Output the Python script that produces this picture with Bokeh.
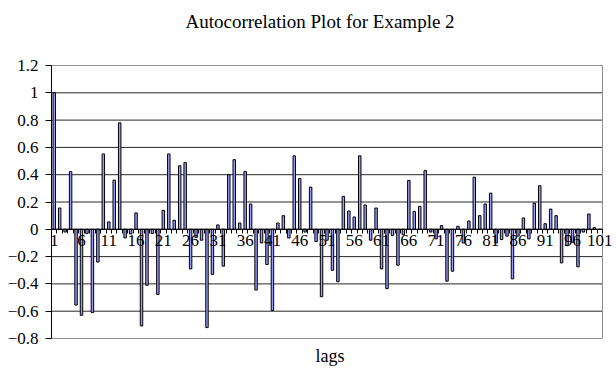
from bokeh.plotting import figure
from bokeh.models import Range1d, FixedTicker, CustomJSTickFormatter, Title
from bokeh.embed import file_html
from bokeh.resources import INLINE

title_text = "Autocorrelation Plot for Example 2"
x_label = "lags"

lags = list(range(1, 102))
acf = [
    1.00, 0.156, -0.02, 0.423, -0.555, -0.63, -0.03, -0.61, -0.24, 0.552,
    0.054, 0.36, 0.78, -0.063, -0.034, 0.12, -0.708, -0.41, -0.03, -0.477,
    0.139, 0.552, 0.066, 0.465, 0.489, -0.29, -0.06, -0.08, -0.72, -0.33,
    0.032, -0.27, 0.40, 0.51, 0.046, 0.423, 0.185, -0.445, -0.10, -0.258,
    -0.594, 0.046, 0.10, -0.063, 0.538, 0.372, -0.02, 0.309, -0.09, -0.494,
    -0.08, -0.30, -0.384, 0.241, 0.134, 0.09, 0.538, 0.178, -0.08, 0.156,
    -0.29, -0.435, -0.046, -0.263, -0.04, 0.358, 0.131, 0.168, 0.43, -0.02,
    -0.07, 0.027, -0.38, -0.307, 0.022, -0.10, 0.061, 0.382, 0.10, 0.185,
    0.265, -0.10, -0.075, -0.05, -0.363, -0.05, 0.083, -0.07, 0.192, 0.319,
    0.041, 0.148, 0.10, -0.246, -0.12, -0.095, -0.275, -0.02, 0.112, 0.012,
    0.0,
]
x_ticks = list(range(1, 102, 5))
y_ticks = [-0.8, -0.6, -0.4, -0.2, 0.0, 0.2, 0.4, 0.6, 0.8, 1.0, 1.2]

FONT = "Liberation Serif"

n = len(lags)
x_lo, x_hi = 0.5, n + 0.5
# the frame runs to the canvas edge so the last tick label is not clipped;
# the visible plot area (gridlines and border) stops at x_hi
cat_px = 551 / n
x_end = x_lo + 565 / cat_px

p = figure(width=616, height=370, output_backend="svg", toolbar_location=None,
           x_range=Range1d(x_lo, x_end), y_range=Range1d(-0.8, 1.2),
           min_border_left=51, min_border_right=0, min_border_top=65, min_border_bottom=31)
p.background_fill_color = "white"
p.border_fill_color = "white"
p.outline_line_color = None
p.xgrid.grid_line_color = None
p.ygrid.grid_line_color = None

# horizontal gridlines and plot-area border
p.segment(x0=[x_lo] * len(y_ticks), x1=[x_hi] * len(y_ticks), y0=y_ticks, y1=y_ticks,
          line_color="#000000", line_alpha=0.85, line_width=1)
p.segment(x0=[x_hi], x1=[x_hi], y0=[y_ticks[0]], y1=[y_ticks[-1]],
          line_color="#909090", line_width=1)

p.vbar(x=lags, top=acf, bottom=0, width=0.45, fill_color="#9999FF",
       line_color="#000000", line_width=1)

# y axis
p.yaxis.ticker = FixedTicker(ticks=y_ticks)
p.yaxis.formatter = CustomJSTickFormatter(code="""
    let s = tick.toFixed(1).replace(/\\.0$/, '');
    if (s === '-0') s = '0';
    return s.replace('-', '\\u2212');
""")
p.yaxis.major_label_text_font = FONT
p.yaxis.major_label_text_font_size = "17px"
p.yaxis.major_label_text_color = "black"
p.yaxis.major_tick_out = 6
p.yaxis.major_tick_in = 0
p.yaxis.minor_tick_line_color = None
p.yaxis.major_label_standoff = 7
p.yaxis.axis_line_color = "black"
p.yaxis.major_tick_line_color = "black"

# x axis at y=0 (axis line drawn as a segment so it stops at the plot-area border)
p.xaxis.fixed_location = 0
p.xaxis.ticker = FixedTicker(ticks=x_ticks, minor_ticks=[k + 0.5 for k in range(0, n + 1)])
p.xaxis.major_label_text_font = FONT
p.xaxis.major_label_text_font_size = "17px"
p.xaxis.major_label_text_color = "black"
p.xaxis.major_tick_line_color = None
p.xaxis.major_tick_out = 4
p.xaxis.major_tick_in = 0
p.xaxis.minor_tick_out = 4
p.xaxis.minor_tick_in = 0
p.xaxis.minor_tick_line_color = "black"
p.xaxis.major_label_standoff = 2
p.xaxis.axis_line_color = None
p.segment(x0=[x_lo], x1=[x_hi], y0=[0], y1=[0], line_color="black", line_width=1)

# title at the top, pushed up by an empty spacer title
p.title.text = title_text
p.title.text_font = FONT
p.title.text_font_size = "19px"
p.title.text_font_style = "normal"
p.title.text_color = "black"
p.title.align = "left"
p.title.offset = 134
p.add_layout(Title(text=" ", text_font_size="16px"), "above")

p.add_layout(Title(text=x_label, align="left", offset=264, text_font=FONT,
                   text_font_size="18px", text_font_style="normal",
                   text_color="black"), "below")

open("out.html", "w").write(file_html(p, INLINE))
